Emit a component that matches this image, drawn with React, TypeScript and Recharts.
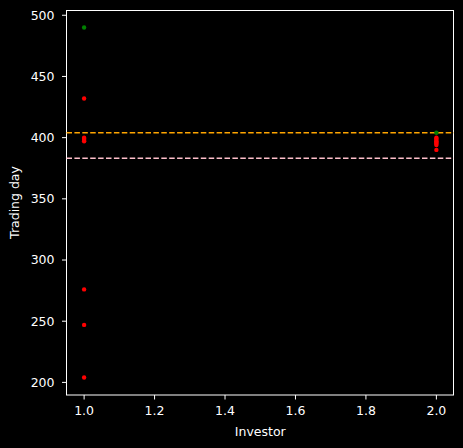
import React from "react";
import { ScatterChart, Scatter, XAxis, YAxis, ReferenceLine } from "recharts";

// investor 1 / 2 trading days
const investor1Red = [432, 400, 399, 398, 397, 276, 247, 204];
const investor2Red = [400, 399, 398, 397, 396, 395, 394, 390];
const greenDays = [490, 404];
const greenInvestors = [1, 2];

const upperLine = 403.9;
const lowerLine = 383.1;

const xTicks = [1.0, 1.2, 1.4, 1.6, 1.8, 2.0];
const yTicks = [200, 250, 300, 350, 400, 450, 500];

const redPoints = [
  ...investor1Red.map((d) => ({ investor: 1, day: d })),
  ...investor2Red.map((d) => ({ investor: 2, day: d })),
];
const greenPoints = greenDays.map((d, i) => ({ investor: greenInvestors[i], day: d }));

const FONT = "DejaVu Sans, sans-serif";

const dot = (color: string) => (props: any) => (
  <circle cx={props.cx} cy={props.cy} r={2.2} fill={color} />
);

const YLabel = (props: any) => {
  const vb = props.viewBox || {};
  const cy = vb.y + vb.height / 2;
  return (
    <text
      x={19}
      y={cy}
      transform={`rotate(-90, 19, ${cy})`}
      textAnchor="middle"
      fill="#ffffff"
      fontSize={12.5}
      fontFamily={FONT}
    >
      Trading day
    </text>
  );
};

const XLabel = (props: any) => {
  const vb = props.viewBox || {};
  return (
    <text
      x={vb.x + vb.width / 2}
      y={436}
      textAnchor="middle"
      fill="#ffffff"
      fontSize={12.5}
      fontFamily={FONT}
    >
      Investor
    </text>
  );
};

export default function App() {
  const tick = { fill: "#ffffff", fontSize: 12.5, fontFamily: FONT };
  return (
    <div style={{ position: "absolute", left: 0, top: 0, width: 463, height: 448, background: "#000000" }}>
      <ScatterChart width={463} height={448} margin={{ top: 10, right: 9, bottom: 0, left: 0 }}>
        <rect x={66.5} y={10.5} width={387} height={384.5} fill="#000000" stroke="#ffffff" strokeWidth={1} />
        <XAxis
          type="number"
          dataKey="investor"
          domain={[0.95, 2.05]}
          ticks={xTicks}
          tickFormatter={(v: number) => v.toFixed(1)}
          allowDataOverflow
          height={53}
          stroke="#ffffff"
          tickSize={4.5}
          tickMargin={6.5}
          tick={tick}
          axisLine={false}
          label={<XLabel />}
        />
        <YAxis
          type="number"
          dataKey="day"
          domain={[189.7, 504.3]}
          ticks={yTicks}
          allowDataOverflow
          width={66.5}
          stroke="#ffffff"
          tickSize={4.5}
          tickMargin={7.5}
          tick={tick}
          axisLine={false}
          label={<YLabel />}
        />
        <ReferenceLine y={upperLine} stroke="#ffa500" strokeWidth={1.5} strokeDasharray="5.5 2.4" />
        <ReferenceLine y={lowerLine} stroke="#ffc0cb" strokeWidth={1.5} strokeDasharray="5.5 2.4" />
        <Scatter data={greenPoints} shape={dot("#008000")} isAnimationActive={false} />
        <Scatter data={redPoints} shape={dot("#ff0000")} isAnimationActive={false} />
      </ScatterChart>
    </div>
  );
}
